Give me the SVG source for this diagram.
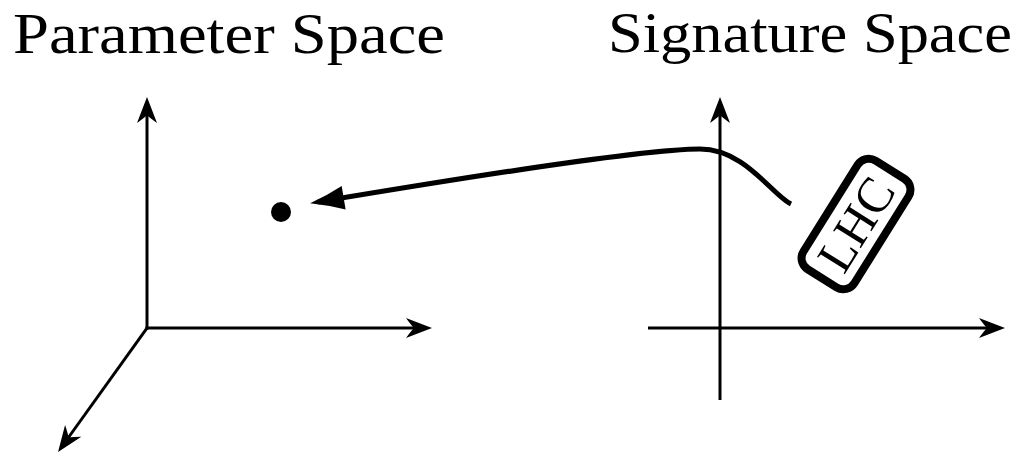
<svg xmlns="http://www.w3.org/2000/svg" width="1021" height="455" viewBox="0 0 1021 455">
  <style>
    .title { font-family: "Liberation Serif", "DejaVu Serif", serif; font-size: 58px; fill: #000; }
    .axis { stroke: #000; stroke-width: 3; fill: none; }
    .lbl { font-family: "Liberation Serif", "DejaVu Serif", serif; font-size: 50px; fill: #000; }
  </style>
  <defs>
    <marker id="stealth" markerUnits="userSpaceOnUse" viewBox="-28 -12 30 24" markerWidth="30" markerHeight="24" refX="-8" refY="0" orient="auto">
      <path d="M0,0 L-26,-10 Q-21,-3 -18,0 Q-21,3 -26,10 Z" fill="#000"/>
    </marker>
    <marker id="latex" markerUnits="userSpaceOnUse" viewBox="-38 -16 40 32" markerWidth="40" markerHeight="32" refX="-8" refY="0" orient="auto">
      <path d="M0,0 Q-18,-5 -34,-12 L-34,12 Q-18,5 0,0 Z" fill="#000"/>
    </marker>
  </defs>
  <g id="title-parameter">
    <text class="title" x="13" y="53" textLength="432" lengthAdjust="spacingAndGlyphs">Parameter Space</text>
  </g>
  <g id="title-signature">
    <text class="title" x="608" y="52" textLength="404" lengthAdjust="spacingAndGlyphs">Signature Space</text>
  </g>
  <g id="parameter-axes">
    <line class="axis" x1="147" y1="329.5" x2="147" y2="105" marker-end="url(#stealth)"/>
    <line class="axis" x1="145.5" y1="328" x2="424" y2="328" marker-end="url(#stealth)"/>
    <line class="axis" x1="147.5" y1="327.3" x2="62.7" y2="445.5" marker-end="url(#stealth)"/>
  </g>
  <g id="signature-axes">
    <line class="axis" x1="720" y1="400" x2="720" y2="105" marker-end="url(#stealth)"/>
    <line class="axis" x1="648" y1="328" x2="997" y2="328" marker-end="url(#stealth)"/>
  </g>
  <g id="point">
    <circle cx="281" cy="212" r="10" fill="#000"/>
  </g>
  <g id="connectors">
    <path d="M791,204 C772,195 745,149 700,149 C640,149 450,180 318,202" fill="none" stroke="#000" stroke-width="5" marker-end="url(#latex)"/>
  </g>
  <g id="lhc" transform="translate(856,224) rotate(-58)">
    <rect x="-64" y="-30" width="128" height="60" rx="13" ry="13" fill="#fff" stroke="#000" stroke-width="8"/>
    <text class="lbl" x="0" y="17" text-anchor="middle" textLength="100" lengthAdjust="spacingAndGlyphs">LHC</text>
  </g>
</svg>
